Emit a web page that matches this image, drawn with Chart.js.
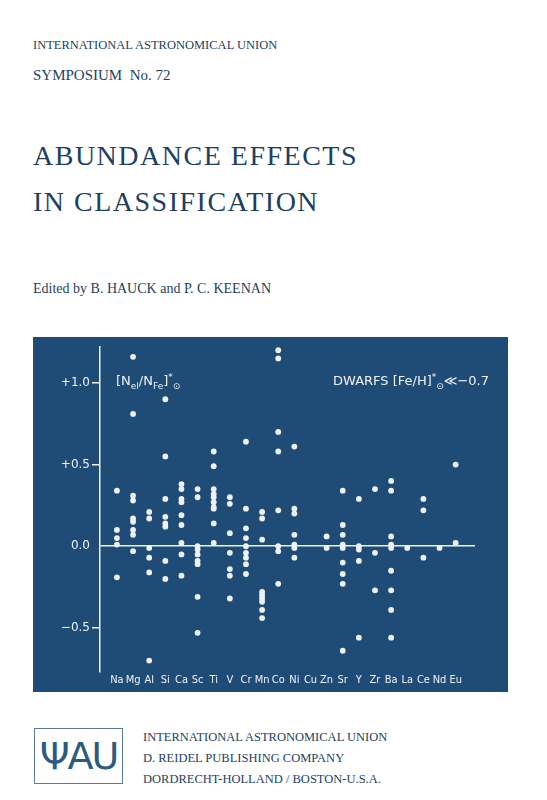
<!DOCTYPE html>
<html>
<head>
<meta charset="utf-8">
<script src="https://cdn.jsdelivr.net/npm/chart.js@4"></script>
<style>
  body { margin: 0; background: #fff; width: 547px; height: 800px; position: relative; overflow: hidden; font-family: 'Liberation Serif', serif; }
  .t { position: absolute; left: 33px; color: #1e3f5e; white-space: nowrap; }
  #panel { position: absolute; left: 33px; top: 337px; width: 475px; height: 355px; background: #1f4c76; }
  .lab { position: absolute; color: #eef2f6; font-family: 'DejaVu Sans', sans-serif; font-size: 13px; white-space: nowrap; }
  .lab sub, .lab sup { font-size: 9px; }
  #logo { position: absolute; left: 34px; top: 728px; width: 87px; height: 54px; border: 1.5px solid #5b7a96; color: #2c5a80; font-family: 'DejaVu Sans', sans-serif; font-size: 38px; text-align: center; line-height: 54px; letter-spacing: -2px; }
</style>
</head>
<body>
<div class="t" style="top:38px;font-size:12.5px;">INTERNATIONAL ASTRONOMICAL UNION</div>
<div class="t" style="top:67px;font-size:15px;">SYMPOSIUM&nbsp; No. 72</div>
<div class="t" style="top:140px;font-size:28px;letter-spacing:1.5px;">ABUNDANCE EFFECTS</div>
<div class="t" style="top:186px;font-size:28px;letter-spacing:1.5px;">IN CLASSIFICATION</div>
<div class="t" style="top:281px;font-size:14px;">Edited by B. HAUCK and P. C. KEENAN</div>

<div id="panel"><canvas id="c"></canvas></div>
<div class="lab" style="left:116px;top:372px;">[N<sub>el</sub>/N<sub>Fe</sub>]<sup>*</sup><sub>⊙</sub></div>
<div class="lab" style="left:333px;top:372px;">DWARFS [Fe/H]<sup>*</sup><sub>⊙</sub>≪−0.7</div>

<div id="logo">ΨAU</div>
<div class="t" style="left:143px;top:730px;font-size:12.5px;">INTERNATIONAL ASTRONOMICAL UNION</div>
<div class="t" style="left:143px;top:751px;font-size:12.5px;">D. REIDEL PUBLISHING COMPANY</div>
<div class="t" style="left:143px;top:772px;font-size:12.5px;">DORDRECHT-HOLLAND / BOSTON-U.S.A.</div>

<script>
const elements = ['Na','Mg','Al','Si','Ca','Sc','Ti','V','Cr','Mn','Co','Ni','Cu','Zn','Sr','Y','Zr','Ba','La','Ce','Nd','Eu'];
const abundances = [
  [0.34, 0.10, 0.05, 0.01, -0.19],
  [1.16, 0.81, 0.31, 0.28, 0.17, 0.15, 0.10, 0.07, -0.03],
  [0.21, 0.17, -0.01, -0.07, -0.16, -0.70],
  [0.90, 0.55, 0.29, 0.18, 0.14, 0.12, -0.09, -0.20],
  [0.38, 0.35, 0.29, 0.27, 0.19, 0.13, 0.02, -0.05, -0.18],
  [0.35, 0.30, 0.00, -0.02, -0.05, -0.09, -0.11, -0.31, -0.53],
  [0.58, 0.49, 0.35, 0.32, 0.30, 0.27, 0.24, 0.23, 0.14, 0.02],
  [0.30, 0.26, 0.08, -0.04, -0.14, -0.18, -0.32],
  [0.64, 0.23, 0.11, 0.05, 0.00, -0.04, -0.07, -0.11, -0.17],
  [0.21, 0.17, 0.04, -0.28, -0.30, -0.32, -0.34, -0.39, -0.44],
  [1.20, 1.15, 0.70, 0.58, 0.22, 0.00, -0.03, -0.23],
  [0.61, 0.23, 0.20, 0.07, 0.01, -0.01, -0.07],
  [],
  [0.06, -0.01],
  [0.34, 0.13, 0.07, 0.01, -0.01, -0.10, -0.17, -0.23, -0.64],
  [0.29, 0.00, -0.02, -0.09, -0.56],
  [0.35, -0.04, -0.27],
  [0.40, 0.34, 0.06, 0.01, -0.01, -0.15, -0.27, -0.39, -0.56],
  [-0.01],
  [0.29, 0.22, -0.07],
  [-0.01],
  [0.50, 0.02]
];
const yTickLabels = { '1': '+1.0', '0.5': '+0.5', '0': '0.0', '-0.5': '−0.5' };

const points = [];
abundances.forEach((vals, i) => vals.forEach(v => points.push({ x: i, y: v })));

const ink = '#eef2f6';
new Chart(document.getElementById('c'), {
  type: 'scatter',
  data: { datasets: [{ data: points, backgroundColor: ink, borderWidth: 0, pointRadius: 2.9 }] },
  options: {
    responsive: true,
    maintainAspectRatio: false,
    animation: false,
    layout: { padding: { top: 10, right: 33, left: 0, bottom: 0 } },
    plugins: { legend: { display: false }, tooltip: { enabled: false } },
    scales: {
      x: {
        type: 'linear', min: -1.05, max: 22.2,
        afterBuildTicks: s => { s.ticks = elements.map((e, i) => ({ value: i })); },
        afterFit: s => { s.height = 20; },
        grid: { display: false },
        border: { display: false },
        ticks: { color: ink, padding: -6, autoSkip: false, maxRotation: 0, minRotation: 0,
                 font: { family: 'DejaVu Sans Condensed', size: 11 }, callback: v => elements[v] || '' }
      },
      y: {
        min: -0.77, max: 1.22,
        afterBuildTicks: s => { s.ticks = [-0.5, 0, 0.5, 1].map(v => ({ value: v })); },
        afterFit: s => { s.width = 67; },
        border: { display: true, color: ink, width: 1.5 },
        grid: {
          color: c => c.tick && c.tick.value === 0 ? ink : 'rgba(0,0,0,0)',
          tickColor: c => c.tick && c.tick.value === 0 ? 'rgba(0,0,0,0)' : ink,
          lineWidth: 1.5, tickLength: 8, drawOnChartArea: true
        },
        ticks: { color: ink, padding: 2, font: { family: 'DejaVu Sans', size: 12 }, callback: v => yTickLabels[String(v)] || '' }
      }
    }
  }
});
</script>
</body>
</html>
